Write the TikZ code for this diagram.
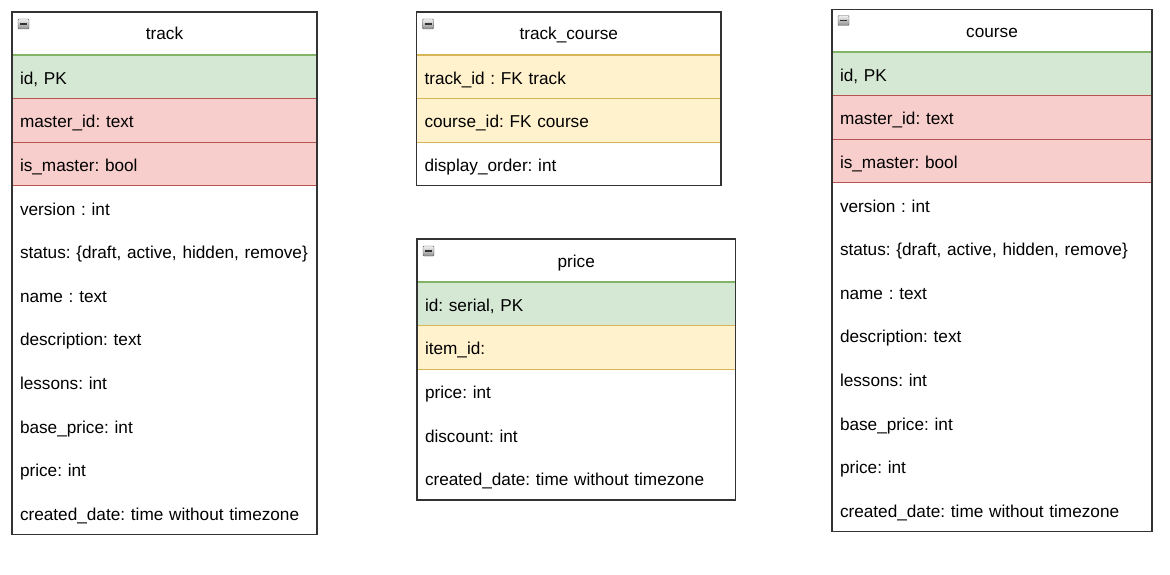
\documentclass[tikz,border=0pt]{standalone}
\usepackage{fontspec}
\setmainfont{Liberation Sans}
\usetikzlibrary{positioning}
\definecolor{pkfill}{HTML}{D5E8D4}
\definecolor{pkline}{HTML}{82B366}
\definecolor{fkfill}{HTML}{FFF2CC}
\definecolor{fkline}{HTML}{D6B656}
\definecolor{msfill}{HTML}{F8CECC}
\definecolor{msline}{HTML}{B85450}
\definecolor{frame}{HTML}{333333}
\begin{document}
\frenchspacing
\begin{tikzpicture}[x=1pt, y=-1pt,
		every node/.style={inner sep=0pt, outer sep=0pt, font=\fontsize{17.2}{20}\selectfont},
		hdr/.style={anchor=north west, draw=frame, line width=1.3pt, fill=white, minimum height=43,
			text height=13pt, text depth=0pt},
		fld/.style={minimum height=43.6, inner xsep=8pt, align=left, text height=15pt, text depth=0pt},
		pk/.style={fld, draw=pkline, fill=pkfill, line width=1.3pt},
		fk/.style={fld, draw=fkline, fill=fkfill, line width=1.3pt},
		ms/.style={fld, draw=msline, fill=msfill, line width=1.3pt},
		trk/.style={text width=289pt},
		tc/.style={text width=288.5pt},
		pr/.style={text width=302.5pt},
		crs/.style={text width=304pt},
		minus/.style={anchor=north west, draw=black!65, top color=black!5, bottom color=black!45,
			rounded corners=1pt, minimum width=11, minimum height=10, text height=0pt, text depth=0pt,
			path picture={\draw[black!80, line width=1.6pt] ([xshift=2pt]path picture bounding box.west) -- ([xshift=-2pt]path picture bounding box.east);}},
		tbl/.style={draw=frame, line width=1.3pt}]
	\useasboundingbox (0,0) rectangle (1170,575);
	% track
	\node[hdr, minimum width=305] (track) at (12,12) {track};
	\node[minus] (track-min) at ([shift={(6,7)}]track.north west) {};
	\node[pk, trk, below=0pt of track] (track-id) {id, PK};
	\node[ms, trk, below=0pt of track-id] (track-mid) {master\_id: text};
	\node[ms, trk, below=0pt of track-mid] (track-ism) {is\_master: bool};
	\node[fld, trk, below=0pt of track-ism] (track-ver) {version : int};
	\node[fld, trk, below=0pt of track-ver] (track-st) {\mbox{status: \{draft, active, hidden, remove\}}};
	\node[fld, trk, below=0pt of track-st] (track-name) {name : text};
	\node[fld, trk, below=0pt of track-name] (track-desc) {description: text};
	\node[fld, trk, below=0pt of track-desc] (track-les) {lessons: int};
	\node[fld, trk, below=0pt of track-les] (track-bp) {base\_price: int};
	\node[fld, trk, below=0pt of track-bp] (track-pr) {price: int};
	\node[fld, trk, below=0pt of track-pr] (track-cd) {created\_date: time without timezone};
	\draw[tbl] (track.north west) rectangle (track-cd.south east);
	% track_course
	\node[hdr, minimum width=304.5] (tc) at (416.5,12) {track\_course};
	\node[minus] (tc-min) at ([shift={(6,7)}]tc.north west) {};
	\node[fk, tc, below=0pt of tc] (tc-tid) {track\_id : FK track};
	\node[fk, tc, below=0pt of tc-tid] (tc-cid) {course\_id: FK course};
	\node[fld, tc, below=0pt of tc-cid] (tc-ord) {display\_order: int};
	\draw[tbl] (tc.north west) rectangle (tc-ord.south east);
	% price
	\node[hdr, minimum width=318.5] (price) at (417,239) {price};
	\node[minus] (price-min) at ([shift={(6,7)}]price.north west) {};
	\node[pk, pr, below=0pt of price] (price-id) {id: serial, PK};
	\node[fk, pr, below=0pt of price-id] (price-item) {item\_id:};
	\node[fld, pr, below=0pt of price-item] (price-pr) {price: int};
	\node[fld, pr, below=0pt of price-pr] (price-dis) {discount: int};
	\node[fld, pr, below=0pt of price-dis] (price-cd) {created\_date: time without timezone};
	\draw[tbl] (price.north west) rectangle (price-cd.south east);
	% course
	\node[hdr, minimum width=320, minimum height=42.5] (course) at (832,9.5) {course};
	\node[minus] (course-min) at ([shift={(6,6)}]course.north west) {};
	\node[pk, crs, below=0pt of course] (course-id) {id, PK};
	\node[ms, crs, below=0pt of course-id] (course-mid) {master\_id: text};
	\node[ms, crs, below=0pt of course-mid] (course-ism) {is\_master: bool};
	\node[fld, crs, below=0pt of course-ism] (course-ver) {version : int};
	\node[fld, crs, below=0pt of course-ver] (course-st) {status: \{draft, active, hidden, remove\}};
	\node[fld, crs, below=0pt of course-st] (course-name) {name : text};
	\node[fld, crs, below=0pt of course-name] (course-desc) {description: text};
	\node[fld, crs, below=0pt of course-desc] (course-les) {lessons: int};
	\node[fld, crs, below=0pt of course-les] (course-bp) {base\_price: int};
	\node[fld, crs, below=0pt of course-bp] (course-pr) {price: int};
	\node[fld, crs, below=0pt of course-pr] (course-cd) {created\_date: time without timezone};
	\draw[tbl] (course.north west) rectangle (course-cd.south east);
\end{tikzpicture}
\end{document}
